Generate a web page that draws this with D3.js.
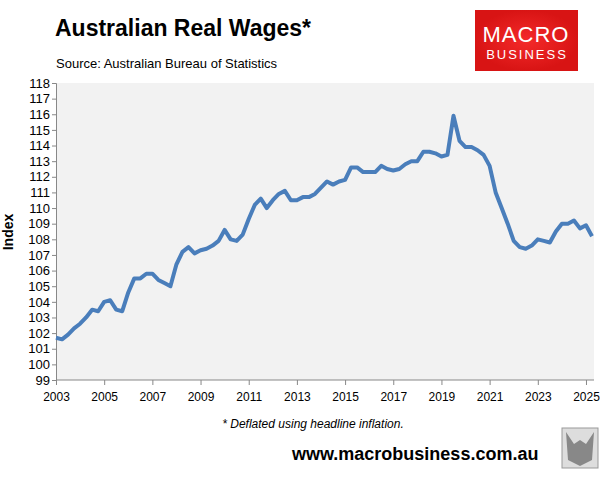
<!DOCTYPE html>
<html><head><meta charset="utf-8">
<script src="https://cdn.jsdelivr.net/npm/d3@7"></script>
<style>body{margin:0;background:#fff}svg{font-family:Arial,"Liberation Sans",sans-serif}</style>
</head><body><svg id="c" width="614" height="479"></svg>
<script>
const values = [
101.7,101.6,101.9,102.3, 102.6,103.0,103.5,103.4, 104.0,104.1,103.5,103.4,
104.6,105.5,105.5,105.8, 105.8,105.4,105.2,105.0, 106.4,107.2,107.5,107.1,
107.3,107.4,107.6,107.9, 108.6,108.0,107.9,108.3, 109.3,110.2,110.6,110.0,
110.5,110.9,111.1,110.5, 110.5,110.7,110.7,110.9, 111.3,111.7,111.5,111.7,
111.8,112.6,112.6,112.3, 112.3,112.3,112.7,112.5, 112.4,112.5,112.8,113.0,
113.0,113.6,113.6,113.5, 113.3,113.4,115.9,114.3, 113.9,113.9,113.7,113.4,
112.7,111.0,110.0,109.0, 107.9,107.5,107.4,107.6, 108.0,107.9,107.8,108.5,
109.0,109.0,109.2,108.7, 108.9,108.2];
const startYear = 2003;
const xTicks = [2003,2005,2007,2009,2011,2013,2015,2017,2019,2021,2023,2025];
const yTicks = d3.range(99,119);
const data = values.map((v,i)=>({t:startYear+i/4,v}));

const svg = d3.select("#c");
const L=56,R=594,T=83,B=380;
const x = d3.scaleLinear().domain([2003,2025.25]).range([L,592]);
const y = d3.scaleLinear().domain([99,118]).range([B,T]);

svg.append("rect").attr("x",L).attr("y",T).attr("width",R-L).attr("height",B-T).attr("fill","#f2f2f2");

const ya = svg.append("g").attr("transform",`translate(${L},0)`)
 .call(d3.axisLeft(y).tickValues(yTicks).tickFormat(d3.format("d")).tickSize(4));
ya.selectAll("text").attr("font-size",13).attr("fill","#000").attr("dx",1);
ya.selectAll("line,path").attr("stroke","#888");

const xa = svg.append("g").attr("transform",`translate(0,${B})`)
 .call(d3.axisBottom(x).tickValues(xTicks).tickFormat(d3.format("d")).tickSize(5).tickSizeOuter(0));
xa.selectAll("text").attr("font-size",12).attr("fill","#000").attr("dy","1.1em");
xa.selectAll("line,path").attr("stroke","#888");
xa.select("path").attr("d",`M${L},0H${R}`);

svg.append("path").datum(data).attr("fill","none").attr("stroke","#4a7ebb")
 .attr("stroke-width",4).attr("stroke-linejoin","round")
 .attr("d",d3.line().x(d=>x(d.t)).y(d=>y(d.v)));

svg.append("text").attr("x",55).attr("y",36).attr("font-size",23).attr("font-weight","bold").text("Australian Real Wages*");
svg.append("text").attr("x",56).attr("y",68).attr("font-size",13).text("Source: Australian Bureau of Statistics");
svg.append("text").attr("transform","translate(13,232) rotate(-90)").attr("text-anchor","middle")
 .attr("font-size",14).attr("font-weight","bold").text("Index");
svg.append("text").attr("x",313).attr("y",428).attr("text-anchor","middle").attr("font-size",12).attr("font-style","italic")
 .text("* Deflated using headline inflation.");
svg.append("text").attr("x",292).attr("y",460).attr("font-size",18).attr("font-weight","bold").text("www.macrobusiness.com.au");

const g=svg.append("defs").append("radialGradient").attr("id","rg");
g.append("stop").attr("offset","0%").attr("stop-color","#f42a2a");
g.append("stop").attr("offset","100%").attr("stop-color","#d81414");
svg.append("rect").attr("x",475).attr("y",10).attr("width",103).attr("height",61).attr("fill","url(#rg)");
svg.append("text").attr("x",526).attr("y",42).attr("text-anchor","middle").attr("fill","#fff").attr("font-size",22).attr("letter-spacing",1).text("MACRO");
svg.append("text").attr("x",527).attr("y",59).attr("text-anchor","middle").attr("fill","#fff").attr("font-size",13).attr("letter-spacing",2).text("BUSINESS");

svg.append("rect").attr("x",562).attr("y",428).attr("width",36).attr("height",40).attr("fill","#ddd").attr("stroke","#999");
svg.append("path").attr("d","M566,432 L574,444 L580,440 L586,444 L594,432 L592,460 L580,466 L568,460Z").attr("fill","#888");
</script></body></html>
